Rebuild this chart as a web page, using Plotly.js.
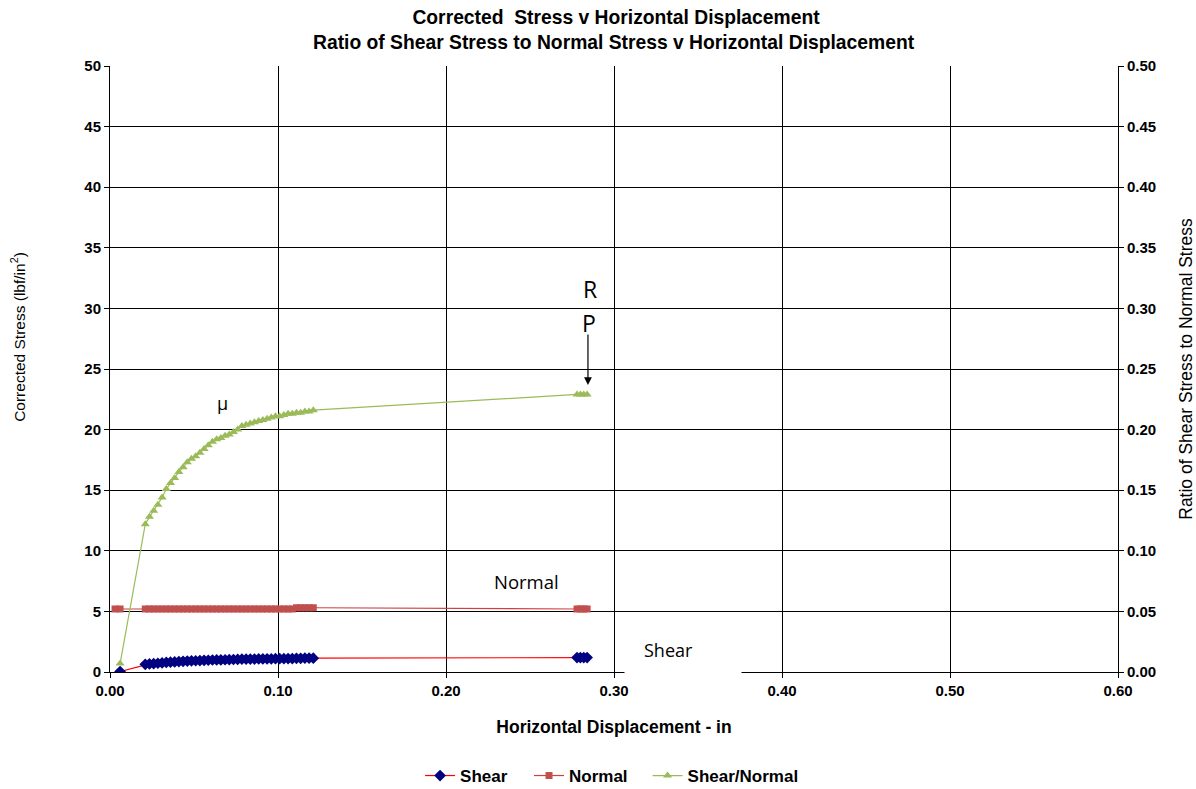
<!DOCTYPE html>
<html>
<head>
<meta charset="utf-8">
<script src="https://cdn.plot.ly/plotly-3.0.1.min.js"></script>
<style>
  html, body { margin: 0; padding: 0; background: #ffffff; }
  #chart { width: 1196px; height: 789px; }
</style>
</head>
<body>
<div id="chart"></div>
<script>
// Horizontal displacement (in)
const displacement = [
  0.003, 0.006,
  0.021, 0.0235, 0.026, 0.0285, 0.031, 0.0335, 0.036, 0.0385, 0.041, 0.0435,
  0.046, 0.0485, 0.051, 0.0535, 0.056, 0.0585, 0.061, 0.0635, 0.066, 0.0685,
  0.071, 0.0735, 0.076, 0.0785, 0.081, 0.0835, 0.086, 0.0885, 0.091, 0.0935,
  0.096, 0.0985, 0.101, 0.1035, 0.106, 0.1085, 0.111, 0.1135, 0.116, 0.1185,
  0.121,
  0.278, 0.280, 0.282, 0.284
];

// Corrected shear stress (lbf/in^2)
const shearStress = [
  null, 0.04,
  0.63, 0.67, 0.69, 0.72, 0.75, 0.79, 0.81, 0.83, 0.86, 0.88,
  0.90, 0.92, 0.93, 0.94, 0.96, 0.97, 0.99, 1.00, 1.00, 1.01,
  1.02, 1.03, 1.04, 1.06, 1.06, 1.07, 1.07, 1.08, 1.08, 1.09,
  1.09, 1.10, 1.10, 1.10, 1.11, 1.11, 1.13, 1.13, 1.14, 1.14,
  1.14,
  1.19, 1.19, 1.19, 1.19
];

// Corrected normal stress (lbf/in^2)
const normalStress = [
  5.2, 5.2,
  5.2, 5.2, 5.2, 5.2, 5.2, 5.2, 5.2, 5.2, 5.2, 5.2,
  5.2, 5.2, 5.2, 5.2, 5.2, 5.2, 5.2, 5.2, 5.2, 5.2,
  5.2, 5.2, 5.2, 5.2, 5.2, 5.2, 5.2, 5.2, 5.2, 5.2,
  5.2, 5.2, 5.2, 5.2, 5.2, 5.2, 5.3, 5.3, 5.3, 5.3,
  5.3,
  5.2, 5.2, 5.2, 5.2
];

// Ratio of shear stress to normal stress
const stressRatio = [
  null, 0.007,
  0.122, 0.128, 0.133, 0.138, 0.144, 0.151, 0.156, 0.160, 0.165, 0.169,
  0.173, 0.176, 0.178, 0.181, 0.184, 0.187, 0.190, 0.192, 0.193, 0.195,
  0.196, 0.198, 0.200, 0.203, 0.204, 0.205, 0.206, 0.207, 0.208, 0.209,
  0.210, 0.211, 0.211, 0.212, 0.213, 0.213, 0.214, 0.214, 0.215, 0.215,
  0.216,
  0.229, 0.229, 0.229, 0.229
];

const seriesNames = ['Shear', 'Normal', 'Shear/Normal'];

const baseFont = 'Liberation Sans, Arial, sans-serif';
const noteFont = 'Open Sans, Noto Sans, sans-serif';

const traces = [
  {
    x: displacement, y: shearStress, name: seriesNames[0],
    type: 'scatter', mode: 'lines+markers', yaxis: 'y', legend: 'legend',
    line: { color: '#FF0000', width: 1.2 },
    marker: { symbol: 'diamond', size: 9, color: '#000080' }
  },
  {
    x: displacement, y: normalStress, name: seriesNames[1],
    type: 'scatter', mode: 'lines+markers', yaxis: 'y', legend: 'legend2',
    line: { color: '#D0403E', width: 1.2 },
    marker: { symbol: 'square', size: 7, color: '#C0504D' }
  },
  {
    x: displacement, y: stressRatio, name: seriesNames[2],
    type: 'scatter', mode: 'lines+markers', yaxis: 'y2', legend: 'legend3',
    line: { color: '#9BBB59', width: 1.2 },
    marker: { symbol: 'triangle-up', size: 8, color: '#9BBB59' }
  }
];

const axisCommon = {
  automargin: false,
  showline: true, linecolor: '#000000', linewidth: 1,
  ticks: 'outside', ticklen: 5, tickcolor: '#000000',
  tickfont: { family: baseFont, size: 15, color: '#000000', weight: 'bold' },
  zeroline: false
};

const titleFont = { family: baseFont, size: 19.3, color: '#000000', weight: 'bold' };

// one legend box per series, laid out in a row under the plot
function legendAt(xPaper) {
  return {
    orientation: 'h', xref: 'paper', x: xPaper, xanchor: 'left',
    yref: 'container', y: 0.0165, yanchor: 'middle',
    font: { family: baseFont, size: 17, color: '#000000', weight: 'bold' },
    bgcolor: 'rgba(0,0,0,0)', itemwidth: 30
  };
}

const layout = {
  width: 1196, height: 789,
  paper_bgcolor: '#ffffff', plot_bgcolor: '#ffffff',
  margin: { l: 110, r: 78, t: 66, b: 117 },
  showlegend: true,
  title: {
    text: 'Corrected  Stress v Horizontal Displacement',
    xref: 'paper', x: 0.502, xanchor: 'center',
    yref: 'container', y: 0.9785, yanchor: 'middle',
    font: titleFont
  },
  xaxis: Object.assign({}, axisCommon, {
    range: [0, 0.6], dtick: 0.1, tick0: 0, tickformat: '.2f',
    showgrid: true, gridcolor: '#000000', gridwidth: 1,
    title: {
      text: 'Horizontal Displacement - in', standoff: 22,
      font: { family: baseFont, size: 17.5, color: '#000000', weight: 'bold' }
    }
  }),
  yaxis: Object.assign({}, axisCommon, {
    range: [0, 50], dtick: 5, tick0: 0,
    showgrid: true, gridcolor: '#000000', gridwidth: 1
  }),
  yaxis2: Object.assign({}, axisCommon, {
    overlaying: 'y', side: 'right',
    range: [0, 0.5], dtick: 0.05, tick0: 0, tickformat: '.2f',
    showgrid: false,
    title: {
      text: 'Ratio of Shear Stress to Normal Stress', standoff: 24,
      font: { family: baseFont, size: 17.5, color: '#000000' }
    }
  }),
  legend: legendAt(0.3076),
  legend2: legendAt(0.4157),
  legend3: legendAt(0.5333),
  annotations: [
    { xref: 'paper', yref: 'paper', x: 0.5, y: 1.0396, yanchor: 'middle',
      text: 'Ratio of Shear Stress to Normal Stress v Horizontal Displacement',
      showarrow: false, font: titleFont },
    // left axis title
    { xref: 'paper', yref: 'paper', x: -0.0913, y: 0.553, textangle: -90,
      xanchor: 'center', yanchor: 'middle', showarrow: false,
      text: 'Corrected Stress (lbf/in<sup>2</sup>)',
      font: { family: baseFont, size: 15.5, color: '#000000' } },
    { xref: 'x', yref: 'y', x: 0.0667, y: 22.2, text: 'μ', showarrow: false,
      font: { family: noteFont, size: 18, color: '#000000' } },
    { xref: 'x', yref: 'y', x: 0.248, y: 7.5, text: 'Normal', showarrow: false,
      font: { family: noteFont, size: 18.5, color: '#000000' } },
    // white text box behind the shear label
    { xref: 'x', yref: 'y', x: 0.341, y: 1.65, text: ' ', showarrow: false,
      width: 116, height: 48, bgcolor: '#ffffff', borderpad: 0,
      xanchor: 'center', yanchor: 'middle' },
    { xref: 'x', yref: 'y', x: 0.3327, y: 1.8, text: 'Shear', showarrow: false,
      font: { family: noteFont, size: 18, color: '#000000' } },
    { xref: 'x', yref: 'y', x: 0.2857, y: 31.6, text: 'R', showarrow: false,
      font: { family: noteFont, size: 23, color: '#000000' } },
    { xref: 'x', yref: 'y', x: 0.285, y: 28.8, text: 'P', showarrow: false,
      font: { family: noteFont, size: 23, color: '#000000' } },
    { xref: 'x', yref: 'y', x: 0.2845, y: 23.68, text: '',
      showarrow: true, axref: 'x', ayref: 'y', ax: 0.2845, ay: 27.97,
      arrowhead: 2, arrowsize: 1.3, arrowwidth: 1.2, arrowcolor: '#000000', standoff: 0 }
  ]
};

Plotly.newPlot('chart', traces, layout, { displayModeBar: false, staticPlot: true });
</script>
</body>
</html>
